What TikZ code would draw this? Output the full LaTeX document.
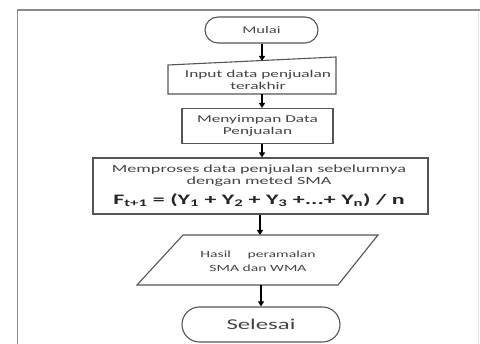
\documentclass[tikz,border=0pt]{standalone}
\usepackage{fontspec}
\setmainfont{Carlito}[FakeStretch=1.65]
\usetikzlibrary{arrows.meta,shapes.misc}
\definecolor{txt}{HTML}{444444}
\definecolor{edge}{HTML}{555555}
\definecolor{framec}{HTML}{8A8A8A}
\definecolor{faint}{HTML}{E4E4E4}
\tikzset{
  x=1pt,y=-1pt,
  box/.style={draw=edge,line width=1.1pt,rectangle,inner sep=0pt,align=center,text=txt},
  term/.style={draw=edge,line width=1.1pt,rounded rectangle,inner sep=0pt,align=center,text=txt},
  plain/.style={inner sep=0pt,align=center,text=txt},
  arr/.style={draw=black,line width=1.2pt,-{Triangle[length=5pt,width=6pt]}},
  shapeline/.style={draw=edge,line width=1.1pt,line join=miter}
}
\begin{document}
\begin{tikzpicture}
\useasboundingbox (0,0) rectangle (480,344);
% frame
\draw[faint,line width=1pt] (478,12) -- (478,344);
\draw[framec,line width=1.6pt] (480,10) -- (17.5,10) -- (17.5,344);
% Mulai
\node[term,minimum width=113pt,minimum height=26pt,font=\fontsize{10}{11}\selectfont] (mulai) at (261.5,30) {Mulai};
% Input (manual input)
\node[plain,font=\fontsize{10.5}{12}\selectfont] (input) at (258,80) {Input data penjualan\\terakhir};
\coordinate (inTL) at (168,65);
\coordinate (inTR) at (336,57);
\coordinate (inBR) at (336,94);
\coordinate (inBL) at (168,94);
\draw[shapeline] (inTL) -- (inTR) -- (inBR) -- (inBL) -- cycle;
\coordinate (intop) at (262,61);
% Menyimpan
\node[box,minimum width=151pt,minimum height=35pt,font=\fontsize{10.5}{12}\selectfont] (simpan) at (257.5,126) {Menyimpan Data\\Penjualan};
% Proses
\node[box,minimum width=335pt,minimum height=56pt] (proses) at (260.5,186) {};
\node[plain,font=\fontsize{11}{12}\selectfont] (prostext) at (259,176) {Memproses data penjualan sebelumnya\\dengan meted SMA};
\node[plain,font=\fontsize{14.5}{17}\selectfont\bfseries,text=black!85] (rumus) at (259,200) {F\textsubscript{t+1} = (Y\textsubscript{1} + Y\textsubscript{2} + Y\textsubscript{3} +...+ Y\textsubscript{n}) / n};
% Hasil (parallelogram)
\node[plain,font=\fontsize{9.5}{14}\selectfont] (hasil) at (258,261) {Hasil\quad\ \ peramalan\\SMA dan WMA};
\coordinate (hTL) at (183,235);
\coordinate (hTR) at (378,235);
\coordinate (hBR) at (338,285);
\coordinate (hBL) at (137,285);
\draw[shapeline] (hTL) -- (hTR) -- (hBR) -- (hBL) -- cycle;
\coordinate (htop) at (260,235);
\coordinate (hbot) at (261,285);
% Selesai
\node[term,minimum width=158pt,minimum height=35pt,font=\fontsize{15}{17}\selectfont] (selesai) at (261,324.5) {Selesai};
% arrows
\draw[arr] (mulai.south -| intop) -- (intop);
\draw[arr] (inBL -| intop) -- (simpan.north -| intop);
\draw[arr] (simpan.south -| intop) -- (proses.north -| intop);
\draw[arr] (proses.south -| htop) -- (htop);
\draw[arr] (hbot) -- (selesai.north -| hbot);
\end{tikzpicture}
\end{document}
